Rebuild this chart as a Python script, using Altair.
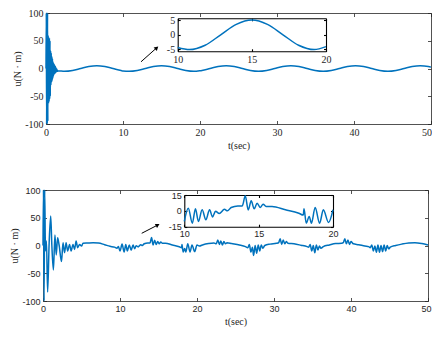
import altair as alt
import pandas as pd

# ---------------- data ----------------
top_t = [0.0, 0.04, 0.08, 0.12, 0.16, 0.2, 0.24, 0.28, 0.32, 0.36,
         0.4, 0.44, 0.48, 0.52, 0.56, 0.6, 0.64, 0.68, 0.72, 0.76,
         0.8, 0.84, 0.88, 0.92, 0.96, 1.0, 1.04, 1.08, 1.12, 1.16,
         1.2, 1.24, 1.28, 1.32, 1.36, 1.4, 1.44, 1.48, 1.52, 1.56,
         2.4, 3.45, 4.5, 5.55, 6.6, 7.65, 8.7, 9.75, 10.0, 10.8,
         11.85, 12.9, 13.95, 15.0, 16.05, 17.1, 18.15, 19.2, 20.0, 20.25,
         21.3, 22.35, 23.4, 24.45, 25.5, 26.55, 27.6, 28.65, 29.7, 30.75,
         31.8, 32.85, 33.9, 34.95, 36.0, 37.05, 38.1, 39.15, 40.2, 41.25,
         42.3, 43.35, 44.4, 45.45, 46.5, 47.55, 48.6, 49.65, 50.0]
top_u = [0, 130, -130, 125, -120, 110, -95, 60, -63, 56,
         -60, 55, -55, 50, -50, 32, -30, 28, -25, 22,
         -22, 18, -18, 12, -14, 9, -11, 7, -9, 5,
         -8, 3, -7, 1, -6, -1, -5, -3, -5, -4,
         -5.1, -3.6, 0, 3.6, 5.1, 3.6, 0, -3.6, -4.4, -5.1,
         -3.6, 0, 3.6, 5.1, 3.6, 0, -3.6, -5.1, -4.1, -3.6,
         0, 3.6, 5.1, 3.6, 0, -3.6, -5.1, -3.6, 0, 3.6,
         5.1, 3.6, 0, -3.6, -5.1, -3.6, 0, 3.6, 5.1, 3.6,
         0, -3.6, -5.1, -3.6, 0, 3.6, 5.1, 3.6, 2.5]

bot_t = [0.0, 0.06, 0.14, 0.22, 0.32, 0.45, 0.6, 0.8, 1.0, 1.15,
         1.35, 1.55, 1.72, 1.9, 2.1, 2.4, 2.6, 2.8, 3.0, 3.2,
         3.45, 3.65, 3.9, 4.1, 4.3, 4.5, 4.75, 5.0, 5.2, 5.8,
         6.5, 7.2, 8.0, 8.7, 9.3, 9.6, 9.8, 10.0, 10.27, 10.54,
         10.75, 10.95, 11.2, 11.45, 11.7, 11.9, 12.1, 12.35, 12.7, 12.9,
         13.15, 13.6, 13.9, 14.1, 14.3, 14.5, 14.7, 14.9, 15.1, 15.3,
         15.5, 15.9, 16.8, 17.7, 18.0, 18.05, 18.2, 18.4, 18.55, 18.8,
         19.1, 19.35, 19.7, 20.0, 20.3, 20.8, 21.5, 22.2, 22.5, 22.7,
         22.9, 23.1, 23.3, 23.5, 23.7, 23.9, 24.5, 25.5, 26.3, 26.6,
         26.8, 27.0, 27.2, 27.35, 27.55, 27.75, 27.95, 28.15, 28.35, 28.55,
         28.8, 29.5, 30.3, 30.6, 30.8, 31.0, 31.2, 31.4, 31.6, 31.8,
         32.6, 33.5, 34.3, 34.5, 34.7, 34.9, 35.1, 35.3, 35.5, 35.7,
         35.9, 36.1, 36.4, 37.2, 38.0, 38.8, 39.0, 39.2, 39.4, 39.6,
         39.8, 40.0, 40.3, 41.0, 41.8, 42.3, 42.5, 42.7, 42.9, 43.1,
         43.3, 43.5, 43.7, 43.9, 44.1, 44.3, 44.5, 44.7, 44.9, 45.1,
         45.8, 46.6, 47.5, 48.3, 49.2, 50.0]
bot_u = [0, 130, -130, 115, -10, 8, -84, 5, 53, 0,
         -44, 19, -17, 14, 0, -29, 5, -13, 5, -10,
         2, -10, 2, -7, 8, -4, 2, -1, 4, 4.5,
         5, 4.5, 1.5, -1.5, -3, -5, -2, -10, 2.5, -11.7,
         2, -10, 1, -8.4, 1, -5.8, -0.3, -2.5, 1.4, 0,
         3.2, 4.7, 4.7, 14.2, 0.9, 9.5, 1.9, 7.3, 3.2, 6.3,
         4.1, 4, 1, -2.2, -4, 1.9, -11.7, -5.4, -11.7, 3.2,
         -11.7, 1, -11, 1, -1, 1.5, 3.5, 4.5, 3, 10,
         2, 8, 1, 7, 3, 5, 3.5, 1, -2, -4,
         2, -12, -3, -18, 0, -14, 1, -10, 1, -5,
         0, 2.5, 4, 5, 12, 2, 10, 3, 7, 4,
         3, 0.5, -2, -3, 2, -10, 0, -13, 1, -8,
         -1, -5, -2, 1, 3.5, 4, 5, 12, 3, 10,
         2, 7, 3, 1.5, -1, -2, -4, 1, -10, -1,
         -12, 1, -12, 0, -11, 1, -10, 0, -6, -3,
         0, 2.5, 4.5, 5, 3.5, 1]

main_x_ticks = [0, 10, 20, 30, 40, 50]
main_y_ticks = [-100, -50, 0, 50, 100]
inset_x_ticks = [10, 15, 20]
top_inset_y_ticks = [-5, 0, 5]
bot_inset_y_ticks = [-15, 0, 15]

arrow_top_t = [12.34, 14.38]
arrow_top_u = [12.1, 37.3]
arrow_bot_t = [12.82, 14.9]
arrow_bot_u = [22.0, 36.9]

# ---------------- layout / style ----------------
W, H = 424, 321
BLUE = "#0072BD"
DARK = "#262626"
SERIF = "Liberation Serif, Times New Roman, serif"
SANS = "Liberation Sans, Arial, sans-serif"
LABEL_EXPR = "datum.value < 0 ? '-' + abs(datum.value) : '' + datum.value"

top_df = pd.DataFrame({"t": top_t, "u": top_u})
bot_df = pd.DataFrame({"t": bot_t, "u": bot_u})
top_in_df = top_df[(top_df.t >= 10) & (top_df.t <= 20)]
bot_in_df = bot_df[(bot_df.t >= 10) & (bot_df.t <= 20)]


def make_scales(xdom, ydom, xr, yr):
    xs = alt.Scale(domain=xdom, range=xr, zero=False, nice=False, clamp=True)
    ys = alt.Scale(domain=ydom, range=yr, zero=False, nice=False, clamp=True)
    return xs, ys


def panel(df, xdom, ydom, xr, yr, xticks, yticks, font, size, tick,
          color, width, interp, line_w, xtitle=None, ytitle=None,
          xtitle_pad=3, ytitle_pad=2, last_shift=0):
    xs, ys = make_scales(xdom, ydom, xr, yr)
    ghost = pd.DataFrame({"t": [xdom[0]], "u": [ydom[0]]})
    common = dict(grid=False, labels=False, title=None, tickColor=color,
                  tickWidth=width, tickSize=tick)
    inner = alt.Chart(ghost).mark_point(opacity=0).encode(
        x=alt.X("t:Q", scale=xs, axis=alt.Axis(
            orient="top", offset=-yr[0], values=xticks, domain=False, **common)),
        y=alt.Y("u:Q", scale=ys, axis=alt.Axis(
            orient="right", offset=xr[0] - W, values=yticks, domain=False, **common)),
    )
    border = alt.Chart(ghost).mark_point(opacity=0).encode(
        x=alt.X("t:Q", scale=xs, axis=alt.Axis(
            orient="bottom", offset=yr[1] - H, values=xticks, domain=True,
            domainColor=color, domainWidth=width, **common)),
        y=alt.Y("u:Q", scale=ys, axis=alt.Axis(
            orient="left", offset=-xr[1], values=yticks, domain=True,
            domainColor=color, domainWidth=width, **common)),
    )
    lab = dict(grid=False, ticks=False, domain=True, domainColor=color,
               domainWidth=width, labelFont=font, labelFontSize=size,
               labelColor=DARK, labelPadding=3, labelFlush=False,
               labelOverlap=False, labelExpr=LABEL_EXPR,
               titleFont=SERIF, titleFontSize=10, titleFontWeight="normal",
               titleColor=DARK)
    xextra = {}
    if last_shift:
        xextra["labelOffset"] = alt.condition(
            "datum.value == %s" % xdom[1], alt.value(last_shift), alt.value(0))
    line = alt.Chart(df).mark_line(color=BLUE, strokeWidth=line_w,
                                   interpolate=interp).encode(
        x=alt.X("t:Q", scale=xs, axis=alt.Axis(
            orient="bottom", offset=yr[0] - H, values=xticks, title=xtitle,
            titlePadding=xtitle_pad, **lab, **xextra)),
        y=alt.Y("u:Q", scale=ys, axis=alt.Axis(
            orient="left", offset=-xr[0], values=yticks, title=ytitle,
            titlePadding=ytitle_pad, **lab)),
    )
    return [inner, border, line]


def arrow(ts, us, xdom, ydom, xr, yr, ang):
    xs, ys = make_scales(xdom, ydom, xr, yr)
    adf = pd.DataFrame({"t": ts, "u": us})
    shaft = alt.Chart(adf).mark_line(color="black", strokeWidth=1).encode(
        x=alt.X("t:Q", scale=xs, axis=None),
        y=alt.Y("u:Q", scale=ys, axis=None),
    )
    head = alt.Chart(adf.tail(1)).mark_point(
        shape="triangle-up", filled=True, color="black", opacity=1,
        size=22, angle=ang).encode(
        x=alt.X("t:Q", scale=xs, axis=None),
        y=alt.Y("u:Q", scale=ys, axis=None),
    )
    return [shaft, head]


TOP_XR, TOP_YR = [38, 423], [116, 5]
BOT_XR, BOT_YR = [35, 420], [293, 182]
TIN_XR, TIN_YR = [169.7, 318], [43.3, 10.3]
BIN_XR, BIN_YR = [176.3, 325], [218.7, 187]

layers = []
layers += panel(top_df, [0, 50], [-100, 100], TOP_XR, TOP_YR, main_x_ticks,
                main_y_ticks, SERIF, 10, 3.5, DARK, 0.8, "monotone", 1.5,
                xtitle="t(sec)", ytitle="u(N · m)", last_shift=-4.5)
layers += panel(bot_df, [0, 50], [-100, 100], BOT_XR, BOT_YR, main_x_ticks,
                main_y_ticks, SANS, 9, 3.5, DARK, 0.8, "monotone", 1.5,
                xtitle="t(sec)", ytitle="u(N · m)", last_shift=-2)
layers += panel(top_in_df, [10, 20], [-5.7, 5.7], TIN_XR, TIN_YR,
                inset_x_ticks, top_inset_y_ticks, SERIF, 10, 2.5, "black",
                1.1, "monotone", 1.5)
layers += panel(bot_in_df, [10, 20], [-15, 15], BIN_XR, BIN_YR,
                inset_x_ticks, bot_inset_y_ticks, SANS, 9, 2.5, "black",
                1.1, "monotone", 1.5)
layers += arrow(arrow_top_t, arrow_top_u, [0, 50], [-100, 100], TOP_XR, TOP_YR, 48)
layers += arrow(arrow_bot_t, arrow_bot_u, [0, 50], [-100, 100], BOT_XR, BOT_YR, 62)

chart = alt.layer(*layers).resolve_scale(
    x="independent", y="independent"
).resolve_axis(
    x="independent", y="independent"
).properties(
    width=W, height=H, autosize=alt.AutoSizeParams(type="none"), padding=0,
    background="white",
).configure_view(strokeWidth=0)

chart.save("out.html", embed_options={"renderer": "svg", "actions": False})
